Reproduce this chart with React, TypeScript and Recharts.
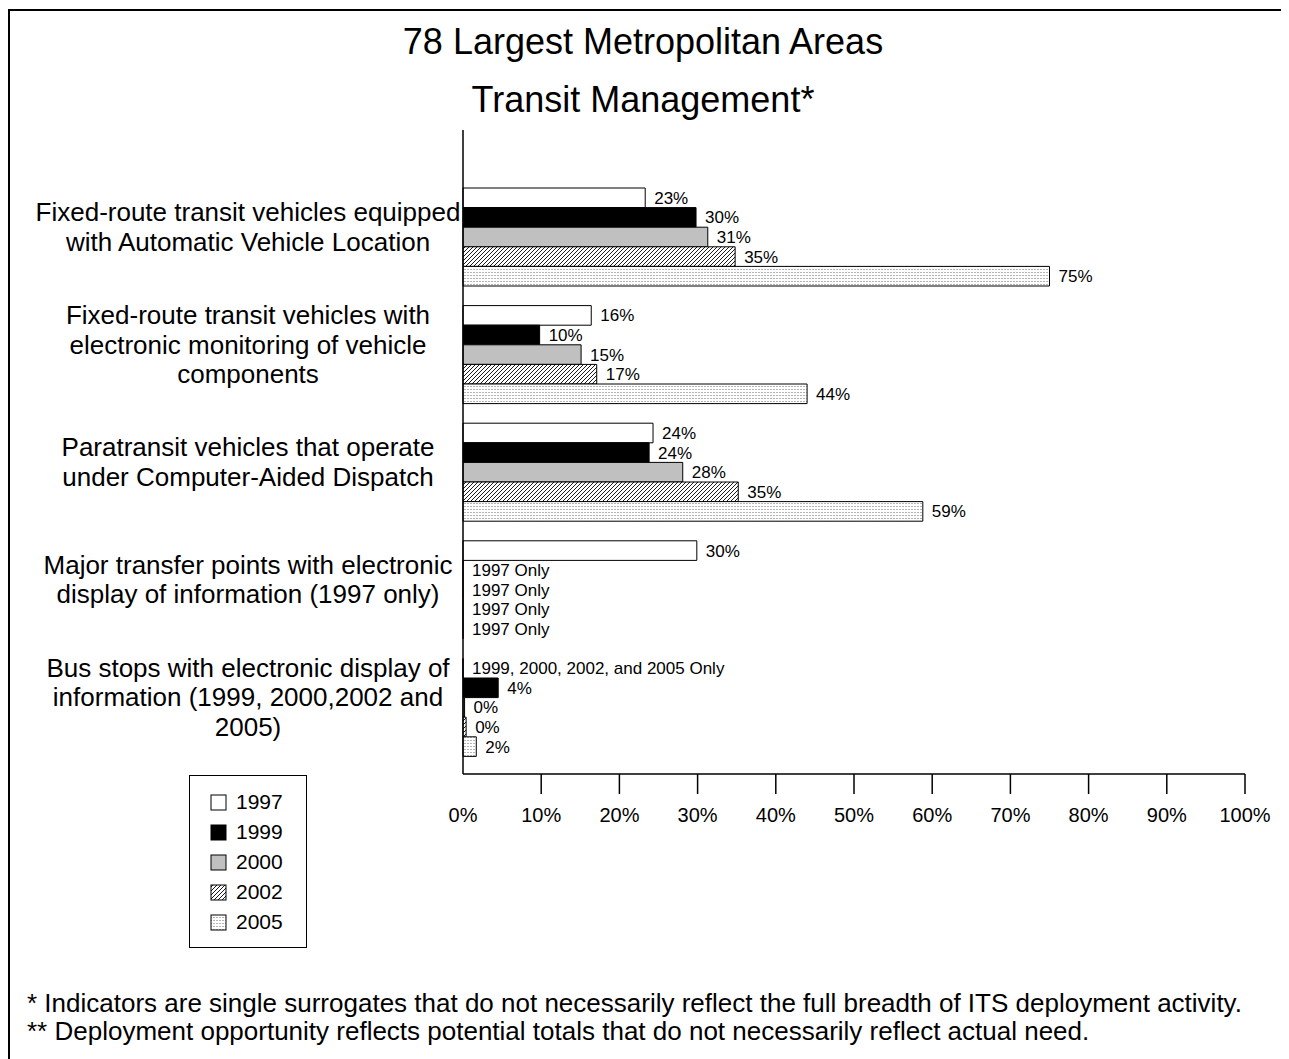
import { BarChart, Bar, XAxis, YAxis, LabelList, Legend } from "recharts";

const FONT = "'Liberation Sans', Arial, Helvetica, sans-serif";

// category labels, one array entry per printed line
const categoryLines = [
  ["Fixed-route transit vehicles equipped", "with Automatic Vehicle Location"],
  ["Fixed-route transit vehicles with", "electronic monitoring of vehicle", "components"],
  ["Paratransit vehicles that operate", "under Computer-Aided Dispatch"],
  ["Major transfer points with electronic", "display of information (1997 only)"],
  ["Bus stops with electronic display of", "information (1999, 2000,2002 and", "2005)"],
];
const categories = categoryLines.map((l) => l.join(" "));

const years = ["1997", "1999", "2000", "2002", "2005"];

// percent values
const v1997 = [23.3, 16.4, 24.3, 29.9, 0];
const v1999 = [29.8, 9.8, 23.8, 0, 4.5];
const v2000 = [31.3, 15.1, 28.1, 0, 0.2];
const v2002 = [34.8, 17.1, 35.2, 0, 0.4];
const v2005 = [75.0, 44.0, 58.8, 0, 1.7];

// printed labels next to each bar
const l1997 = ["23%", "16%", "24%", "30%", "1999, 2000, 2002, and 2005 Only"];
const l1999 = ["30%", "10%", "24%", "1997 Only", "4%"];
const l2000 = ["31%", "15%", "28%", "1997 Only", "0%"];
const l2002 = ["35%", "17%", "35%", "1997 Only", "0%"];
const l2005 = ["75%", "44%", "59%", "1997 Only", "2%"];

const xTicks = [0, 10, 20, 30, 40, 50, 60, 70, 80, 90, 100];

const fills = ["#ffffff", "#000000", "#c0c0c0", "url(#hatch2002)", "url(#dots2005)"];
const seriesValues = [v1997, v1999, v2000, v2002, v2005];
const seriesLabels = [l1997, l1999, l2000, l2002, l2005];

const data = categories.map((name, i) => {
  const row: Record<string, any> = { name };
  years.forEach((y, s) => {
    row["y" + y] = seriesValues[s][i];
    row["lab" + y] = seriesLabels[s][i];
  });
  return row;
});

const Patterns = () => (
  <svg width={0} height={0} style={{ position: "absolute" }}>
    <defs>
      <pattern id="hatch2002" patternUnits="userSpaceOnUse" width={4} height={4}>
        <rect width={4} height={4} fill="#fff" />
        <path d="M-1,1 l2,-2 M0,4 l4,-4 M3,5 l2,-2" stroke="#000" strokeWidth={0.9} />
      </pattern>
      <pattern id="dots2005" patternUnits="userSpaceOnUse" width={3} height={3}>
        <rect width={3} height={3} fill="#fff" />
        <rect x={0} y={0} width={2} height={1} fill="#b4b4b4" />
      </pattern>
    </defs>
  </svg>
);

const YTick = ({ y, payload }: any) => {
  const lines = categoryLines[categories.indexOf(payload.value)] || [payload.value];
  const n = lines.length;
  return (
    <text x={240} textAnchor="middle" fontSize={26} fontFamily={FONT} fill="#000">
      {lines.map((line, i) => (
        <tspan key={i} x={240} y={y - 10 + (i - (n - 1) / 2) * 29.5} dy="0.35em">
          {line}
        </tspan>
      ))}
    </text>
  );
};

const XTick = ({ x, y, payload }: any) => (
  <g>
    {payload.value !== 0 && <line x1={x} x2={x} y1={y - 20} y2={y} stroke="#000" strokeWidth={1.5} />}
    <text x={x} y={y + 28} textAnchor="middle" fontSize={20} fontFamily={FONT} fill="#000">
      {payload.value}%
    </text>
  </g>
);

const BarLabel = (props: any) => {
  const vb = props.viewBox || {};
  const x = Number(props.x ?? vb.x);
  const y = Number(props.y ?? vb.y);
  const w = Number(props.width ?? vb.width ?? 0);
  const h = Number(props.height ?? vb.height ?? 0);
  return (
    <text x={x + Math.max(w, 0) + 9} y={y + h / 2} dy="0.35em" fontSize={17} fontFamily={FONT} fill="#000">
      {props.value}
    </text>
  );
};

const LegendBox = ({ payload }: any) => (
  <div
    style={{
      width: 118,
      height: 173,
      boxSizing: "border-box",
      border: "1px solid #000",
      paddingTop: 11,
      paddingLeft: 20,
      fontFamily: FONT,
      fontSize: 21,
      background: "#fff",
    }}
  >
    {(payload || []).map((entry: any, i: number) => (
      <div key={i} style={{ height: 30, display: "flex", alignItems: "center" }}>
        <svg width={17} height={17} style={{ marginRight: 9 }}>
          <rect x={1} y={1} width={15} height={15} fill={entry.color} stroke="#000" strokeWidth={1} />
        </svg>
        <span>{entry.value}</span>
      </div>
    ))}
  </div>
);

export default function App() {
  return (
    <div style={{ position: "relative", width: 1281, height: 1051, fontFamily: FONT, background: "#fff" }}>
      <Patterns />
      <div style={{ position: "absolute", left: 0, top: 1, width: 1281, height: 2, background: "#000" }} />
      <div style={{ position: "absolute", left: 0, top: 1, width: 2, height: 1050, background: "#000" }} />
      <div style={{ position: "absolute", left: 0, top: 14, width: 1270, textAlign: "center", fontSize: 36, lineHeight: "40px" }}>
        78 Largest Metropolitan Areas
      </div>
      <div style={{ position: "absolute", left: 0, top: 72, width: 1270, textAlign: "center", fontSize: 36, lineHeight: "40px" }}>
        Transit Management*
      </div>
      <BarChart
        layout="vertical"
        width={1281}
        height={1051}
        data={data}
        margin={{ top: 122, right: 44, bottom: 225, left: 0 }}
        barSize={19.6}
        barGap={0}
      >
        <XAxis
          type="number"
          domain={[0, 100]}
          ticks={xTicks}
          interval={0}
          height={60}
          tickSize={20}
          tickMargin={0}
          tickLine={false}
          axisLine={{ stroke: "#000", strokeWidth: 1.5 }}
          tick={<XTick />}
        />
        <YAxis
          type="category"
          dataKey="name"
          width={455}
          padding={{ top: 48, bottom: 8 }}
          tickLine={false}
          axisLine={{ stroke: "#000", strokeWidth: 1.5 }}
          tick={<YTick />}
          interval={0}
        />
        <Legend
          layout="vertical"
          align="center"
          verticalAlign="middle"
          wrapperStyle={{ left: 181, top: 767, width: 118, height: 173 }}
          content={<LegendBox />}
        />
        {years.map((yr, s) => (
          <Bar
            key={yr}
            dataKey={"y" + yr}
            name={yr}
            fill={fills[s]}
            stroke="#000"
            strokeWidth={1}
            minPointSize={0.01}
            isAnimationActive={false}
          >
            <LabelList dataKey={"lab" + yr} content={<BarLabel />} />
          </Bar>
        ))}
      </BarChart>
      <div style={{ position: "absolute", left: 19, top: 981, fontSize: 26, lineHeight: "28px", whiteSpace: "nowrap" }}>
        * Indicators are single surrogates that do not necessarily reflect the full breadth of ITS deployment activity.
      </div>
      <div style={{ position: "absolute", left: 19, top: 1009, fontSize: 26, lineHeight: "28px", whiteSpace: "nowrap" }}>
        ** Deployment opportunity reflects potential totals that do not necessarily reflect actual need.
      </div>
    </div>
  );
}
